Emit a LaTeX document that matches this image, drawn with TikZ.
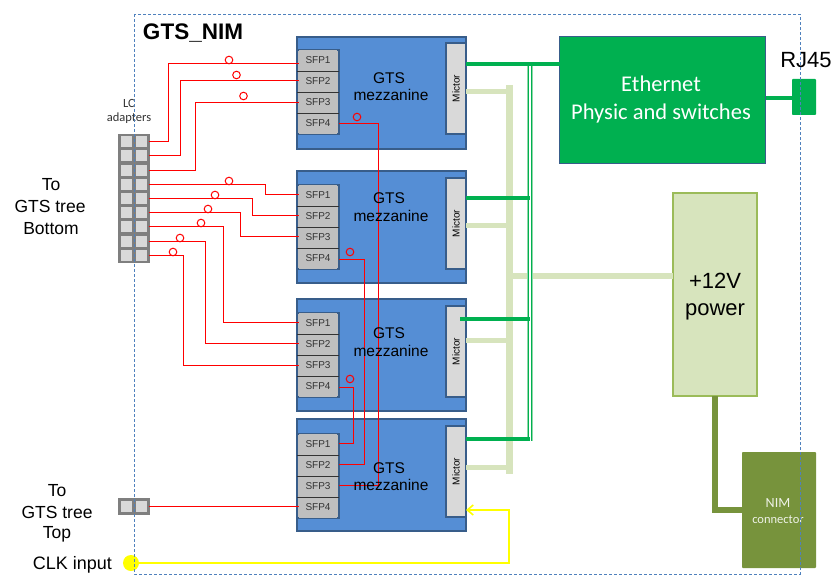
\documentclass[tikz,border=0pt]{standalone}
\usepackage{fontspec}
\setmainfont{Liberation Sans}
\newfontfamily\calib{Carlito}
\usetikzlibrary{arrows.meta}
\definecolor{mezblue}{HTML}{558ED5}
\definecolor{edgeblue}{HTML}{385D8A}
\definecolor{cellgray}{HTML}{BFBFBF}
\definecolor{lightgray2}{HTML}{D9D9D9}
\definecolor{adgray}{HTML}{7F7F7F}
\definecolor{ethgreen}{HTML}{00B050}
\definecolor{palegreen}{HTML}{D7E4BD}
\definecolor{powedge}{HTML}{9BBB59}
\definecolor{olive}{HTML}{77933C}
\definecolor{framec}{HTML}{4F81BD}
\definecolor{busgreen}{HTML}{8FD8A8}
\definecolor{clk}{HTML}{FFFF00}
\tikzset{
  every node/.append style={outer sep=0pt},
  mezbox/.style={draw=edgeblue,fill=mezblue,line width=2.4pt,minimum width=169pt,minimum height=112pt,inner sep=0pt},
  sfpblock/.style={draw=edgeblue,fill=cellgray,line width=2.4pt,minimum width=42pt,minimum height=84pt,inner sep=0pt},
  sfpcell/.style={fill=cellgray,minimum width=38pt,minimum height=21pt,inner sep=0pt,font=\fontsize{10}{12}\selectfont,text=black!80},
  mictorbox/.style={draw=edgeblue,fill=lightgray2,line width=2.4pt,minimum width=20pt,minimum height=91pt,inner sep=0pt},
  mictorlabel/.style={rotate=90,font=\fontsize{10}{12}\selectfont,inner sep=0pt},
  mezlabel/.style={font=\fontsize{15.5}{18}\selectfont,inner sep=0pt,anchor=base},
  lclabel/.style={font=\calib\fontsize{12.5}{14}\selectfont,text=black!80,inner sep=0pt,anchor=base},
  sidelabel/.style={font=\fontsize{17.5}{20}\selectfont,inner sep=0pt,anchor=base},
  bigtext/.style={font=\fontsize{22}{26}\selectfont,inner sep=0pt,anchor=base},
  ethtext/.style={text=white,font=\calib\fontsize{22.5}{26}\selectfont,inner sep=0pt,anchor=base},
  adcell/.style={draw=adgray,fill=lightgray2,line width=2.7pt,minimum width=14pt,minimum height=13.6pt,inner sep=0pt},
  redwire/.style={draw=red,line width=1pt},
  loopmark/.style={draw=red,line width=1pt},
  ethwire/.style={draw=ethgreen,line width=4.5pt},
  powwire/.style={draw=palegreen,line width=5pt},
  powbus/.style={draw=palegreen,line width=7pt},
  nimwire/.style={draw=olive,line width=5.5pt},
  clkwire/.style={draw=clk,line width=1.6pt},
}
\begin{document}
\begin{tikzpicture}[x=1pt,y=-1pt]
\useasboundingbox (0,0) rectangle (837,585);
% light power bus (behind)
\coordinate (pb1) at (509,85);
\coordinate (pb2) at (509,474);
\draw[powbus] (pb1) -- (pb2);

% mezzanines
\foreach \n/\t/\b/\mt in {1/36/49/42,2/170/184/177,3/298/312/305,4/418/433/425}{
  \node[mezbox,anchor=north west] (mez\n) at (297,\t+1) {};
  \node[sfpblock,anchor=north west] (blk\n) at (297,\b+1) {};
  \node[sfpcell] (s\n1) at (318,\b+11.5) {SFP1};
  \node[sfpcell] (s\n2) at (318,\b+32.5) {SFP2};
  \node[sfpcell] (s\n3) at (318,\b+53.5) {SFP3};
  \node[sfpcell] (s\n4) at (318,\b+74.5) {SFP4};
  \draw[black!80,line width=.8pt] (blk\n.west|-s\n1.south) -- (blk\n.east|-s\n1.south);
  \draw[black!80,line width=.8pt] (blk\n.west|-s\n2.south) -- (blk\n.east|-s\n2.south);
  \draw[black!80,line width=.8pt] (blk\n.west|-s\n3.south) -- (blk\n.east|-s\n3.south);
  \node[mictorbox,anchor=north west] (mic\n) at (446,\mt+1) {};
  \node[mictorlabel] (mict\n) at (mic\n.center) {Mictor};
}

% adapters
\foreach \i in {1,...,9}{
  \node[adcell] (al\i) at (126.5,{141.7+14.2*(\i-1)}) {};
  \node[adcell] (a\i) at (141.5,{141.7+14.2*(\i-1)}) {};
}
\node[adcell] (tl) at (126.5,506.5) {};
\node[adcell] (t) at (141.5,506.5) {};

% boxes on the right
\node[draw=edgeblue,fill=ethgreen,line width=1.7pt,anchor=north west,minimum width=206pt,minimum height=127pt,inner sep=0pt] (eth) at (559.5,36.5) {};
\node[ethtext] (ethA) at (661,92) {Ethernet};
\node[ethtext] (ethB) at (661,120) {Physic and switches};
\node[fill=ethgreen,anchor=north west,minimum width=24pt,minimum height=36pt,inner sep=0pt,rounded corners=.8pt] (rj) at (792,79) {};
\node[bigtext] (rjt) at (806,68) {RJ45};
\node[draw=powedge,fill=palegreen,line width=2.5pt,anchor=north west,minimum width=84pt,minimum height=203pt,inner sep=0pt] (pow) at (673,193) {};
\node[bigtext] (powA) at (715,288) {+12V};
\node[bigtext] (powB) at (715,315) {power};
\node[fill=olive,anchor=north west,minimum width=74pt,minimum height=116pt,inner sep=0pt,rounded corners=.8pt] (nim) at (742,452) {};
\node[text=white!88!olive,font=\calib\fontsize{14}{16}\selectfont,inner sep=0pt] (nimA) at (778,503) {NIM};
\node[text=white!88!olive,font=\calib\fontsize{12.5}{14}\selectfont,inner sep=0pt] (nimB) at (778,520) {connector};

% power wires
\draw[powwire] (mez1.east|-0,92) -- (pb1|-0,92);
\draw[powwire] (mez2.east|-0,226) -- (pb1|-0,226);
\draw[powwire] (mez3.east|-0,340) -- (pb1|-0,340);
\draw[powwire] (mez4.east|-0,467) -- (pb1|-0,467);
\draw[powwire,line width=6pt] (pb1|-0,276) -- (pow.west|-0,276);

% ethernet bus
\coordinate (gb1) at (530,64);
\coordinate (gb2) at (530,441);
\draw[draw=busgreen,line width=6pt] (gb1) -- (gb2);
\draw[draw=white,line width=1.6pt] (gb1) -- (gb2);
\draw[draw=ethgreen,line width=.7pt] ([xshift=-1.6pt]gb1) -- ([xshift=-1.6pt]gb2);
\draw[draw=ethgreen,line width=.7pt] ([xshift=1.4pt]gb1) -- ([xshift=1.4pt]gb2);
\draw[ethwire] (mez1.east|-0,64) -- (eth.west|-0,64);
\draw[ethwire] (mez2.east|-0,198) -- (gb1|-0,198);
\coordinate (g3s) at (460,319);
\draw[ethwire] (g3s) -- (gb1|-g3s);
\draw[ethwire] (mez4.east|-0,439) -- (gb1|-0,439);
\draw[ethwire] (eth.east|-0,98) -- (rj.west|-0,98);

% NIM supply
\draw[nimwire,line join=miter] (715,396) -- (715,510) -- (nim.west|-0,510);

% red wires (under the mezzanine captions)
\draw[redwire] (a1.east) -| (168,64) -- (s11.west|-0,64);
\draw[redwire] (a2.east) -| (180,81) -- (s12.west|-0,81);
\draw[redwire] (a3.east) -| (195,103) -- (s13.west|-0,103);
\draw[redwire] (a4.east) -| (265,195) -- (s21.west|-0,195);
\draw[redwire] (a5.east) -| (252,216) -- (s22.west|-0,216);
\draw[redwire] (a6.east) -| (240,237) -- (s23.west|-0,237);
\draw[redwire] (a7.east) -| (223,322) -- (s31.west|-0,322);
\draw[redwire] (a8.east) -| (205,343) -- (s32.west|-0,343);
\draw[redwire] (a9.east) -| (183,365) -- (s33.west|-0,365);
\draw[redwire] (t.east) -- (s44.west|-t.east);
\draw[redwire] (blk1.east|-0,124) -| (378,485) -- (blk4.east|-0,485);
\draw[redwire] (blk2.east|-0,259) -| (364,464) -- (blk4.east|-0,464);
\draw[redwire] (blk3.east|-0,387) -| (353,443) -- (blk4.east|-0,443);
\foreach \cx/\cy in {229/60,236.5/75,243.5/96,357/117,229/181,215/195,208/209,201/223,180/238,173/252,350/252,350/379}{
  \draw[loopmark] (\cx,\cy) circle (3.8);
}
\foreach \n/\gy/\my in {1/83.5/101,2/203.5/221.5,3/338.5/356,4/473.5/490.5}{
  \node[mezlabel] (mezgts\n) at (389,\gy) {GTS};
  \node[mezlabel] (meztxt\n) at (391,\my) {mezzanine};
}

% clock
\node[circle,fill=clk,minimum size=16pt,inner sep=0pt] (clkin) at (131,563) {};
\coordinate (cy) at (509,563);
\draw[clkwire,-{Straight Barb[length=6pt,width=10pt,line width=1.6pt]}] (clkin.east) -- (cy) |- (mic4.east|-0,510);

% labels
\node[font=\bfseries\fontsize{22.5}{26}\selectfont,inner sep=0pt,anchor=base] (title) at (193,40) {GTS\_NIM};
\node[lclabel] (lcA) at (129,108) {LC};
\node[lclabel] (lcB) at (129,122) {adapters};
\node[sidelabel] (bA) at (51,191) {To};
\node[sidelabel] (bB) at (50,213) {GTS tree};
\node[sidelabel] (bC) at (51,234) {Bottom};
\node[sidelabel] (tA) at (57,496) {To};
\node[sidelabel] (tB) at (57,518) {GTS tree};
\node[sidelabel] (tC) at (57,538) {Top};
\node[sidelabel,font=\fontsize{18}{20}\selectfont] (ck) at (72.5,569) {CLK input};

% frame
\draw[draw=framec,line width=.8pt,densely dashed] (134,14) rectangle (800,574);
\end{tikzpicture}
\end{document}
